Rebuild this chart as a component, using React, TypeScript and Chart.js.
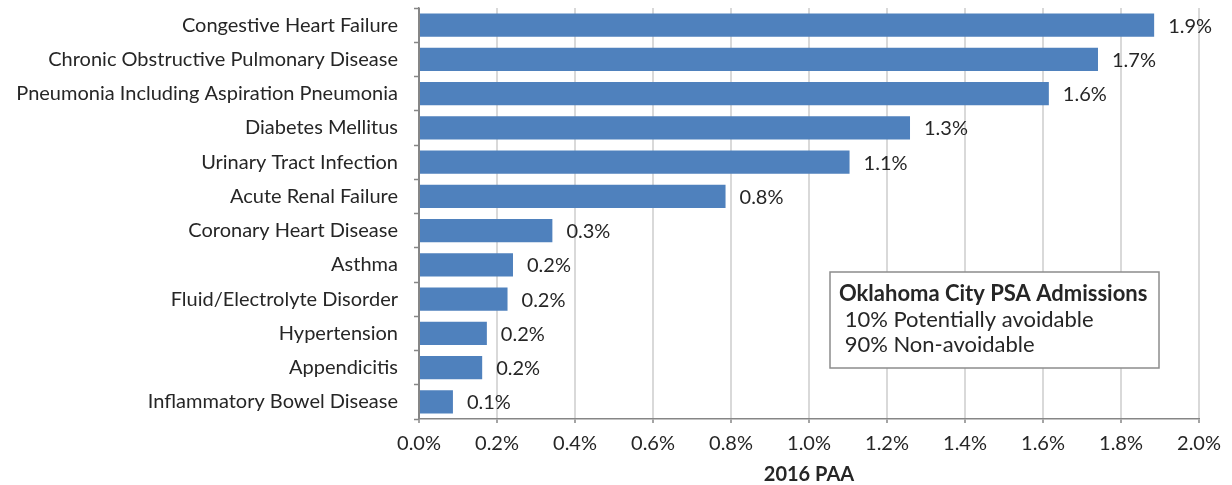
import React, { useEffect, useRef } from "react";
import { Chart, registerables } from "chart.js";

Chart.register(...registerables);

const categories = [
  "Congestive Heart Failure",
  "Chronic Obstructive Pulmonary Disease",
  "Pneumonia Including Aspiration Pneumonia",
  "Diabetes Mellitus",
  "Urinary Tract Infection",
  "Acute Renal Failure",
  "Coronary Heart Disease",
  "Asthma",
  "Fluid/Electrolyte Disorder",
  "Hypertension",
  "Appendicitis",
  "Inflammatory Bowel Disease",
];

const values = [1.885, 1.741, 1.615, 1.259, 1.104, 0.786, 0.342, 0.241, 0.227, 0.174, 0.162, 0.087];

const axisTitle = "2016 PAA";
const boxTitle = "Oklahoma City PSA Admissions";
const boxLines = [" 10% Potentially avoidable", " 90% Non-avoidable"];

const FONT = "Lato, 'Open Sans', sans-serif";
const TEXT = "#262626";
const AXIS = "#868686";
const GRID = "#d9d9d9";
const BAR = "#4f81bd";

const valueLabels = {
  id: "valueLabels",
  afterDatasetsDraw(chart: any) {
    const { ctx } = chart;
    const meta = chart.getDatasetMeta(0);
    ctx.save();
    ctx.font = `20px ${FONT}`;
    ctx.fillStyle = TEXT;
    ctx.textAlign = "left";
    ctx.textBaseline = "middle";
    meta.data.forEach((bar: any, i: number) => {
      ctx.fillText(values[i].toFixed(1) + "%", bar.x + 14, bar.y + 1);
    });
    ctx.restore();
  },
};

const noteBox = {
  id: "noteBox",
  afterDraw(chart: any) {
    const { ctx } = chart;
    const x = 830, y = 272, w = 329, h = 96;
    ctx.save();
    ctx.fillStyle = "#ffffff";
    ctx.fillRect(x, y, w, h);
    ctx.strokeStyle = "#8c8c8c";
    ctx.lineWidth = 1.5;
    ctx.strokeRect(x, y, w, h);
    ctx.fillStyle = TEXT;
    ctx.textAlign = "left";
    ctx.textBaseline = "middle";
    ctx.font = `bold 22px ${FONT}`;
    ctx.fillText(boxTitle, x + 9, y + 22);
    ctx.font = `22px ${FONT}`;
    boxLines.forEach((t, i) => ctx.fillText(t, x + 9, y + 48 + i * 25));
    ctx.restore();
  },
};

export default function App() {
  const ref = useRef<HTMLCanvasElement | null>(null);

  useEffect(() => {
    document.body.style.margin = "0";
    const canvas = ref.current;
    if (!canvas) return;
    const chart = new Chart(canvas, {
      type: "bar",
      data: {
        labels: categories,
        datasets: [
          {
            data: values,
            backgroundColor: BAR,
            borderWidth: 0,
            categoryPercentage: 1,
            barPercentage: 0.68,
          },
        ],
      },
      options: {
        indexAxis: "y",
        animation: false,
        responsive: false,
        maintainAspectRatio: false,
        layout: { padding: { top: 8, right: 33, left: 0, bottom: 0 } },
        plugins: {
          legend: { display: false },
          tooltip: { enabled: false },
          title: { display: false },
        },
        scales: {
          x: {
            min: 0,
            max: 2,
            ticks: {
              stepSize: 0.2,
              color: TEXT,
              font: { family: FONT, size: 20 },
              padding: 9,
              callback: (v: any) => Number(v).toFixed(1) + "%",
            },
            grid: {
              color: (c: any) => (c.index === 0 ? AXIS : GRID),
              lineWidth: 2,
              drawTicks: true,
              tickLength: 4,
              tickColor: AXIS,
              tickWidth: 1.5,
            },
            border: { display: true, color: AXIS, width: 1.5 },
            title: {
              display: true,
              text: axisTitle,
              color: TEXT,
              font: { family: FONT, size: 20, weight: "bold", lineHeight: 1 },
              padding: { top: 0, bottom: 0 },
            },
            afterFit: (s: any) => {
              s.height = 66;
            },
          },
          y: {
            ticks: {
              color: TEXT,
              font: { family: FONT, size: 20 },
              padding: 16,
              autoSkip: false,
            },
            grid: {
              offset: true,
              drawOnChartArea: false,
              drawTicks: true,
              tickLength: 5,
              tickColor: AXIS,
              tickWidth: 1.5,
              color: AXIS,
            },
            border: { display: true, color: AXIS, width: 1.5 },
            afterFit: (s: any) => {
              s.width = 419;
              s.paddingTop = 0;
              s.paddingBottom = 0;
            },
          },
        },
      },
      plugins: [valueLabels, noteBox],
    });
    return () => chart.destroy();
  }, []);

  return (
    <div style={{ width: 1232, height: 485, position: "relative", background: "#fff" }}>
      <canvas ref={ref} width={1232} height={485} style={{ display: "block" }} />
    </div>
  );
}
